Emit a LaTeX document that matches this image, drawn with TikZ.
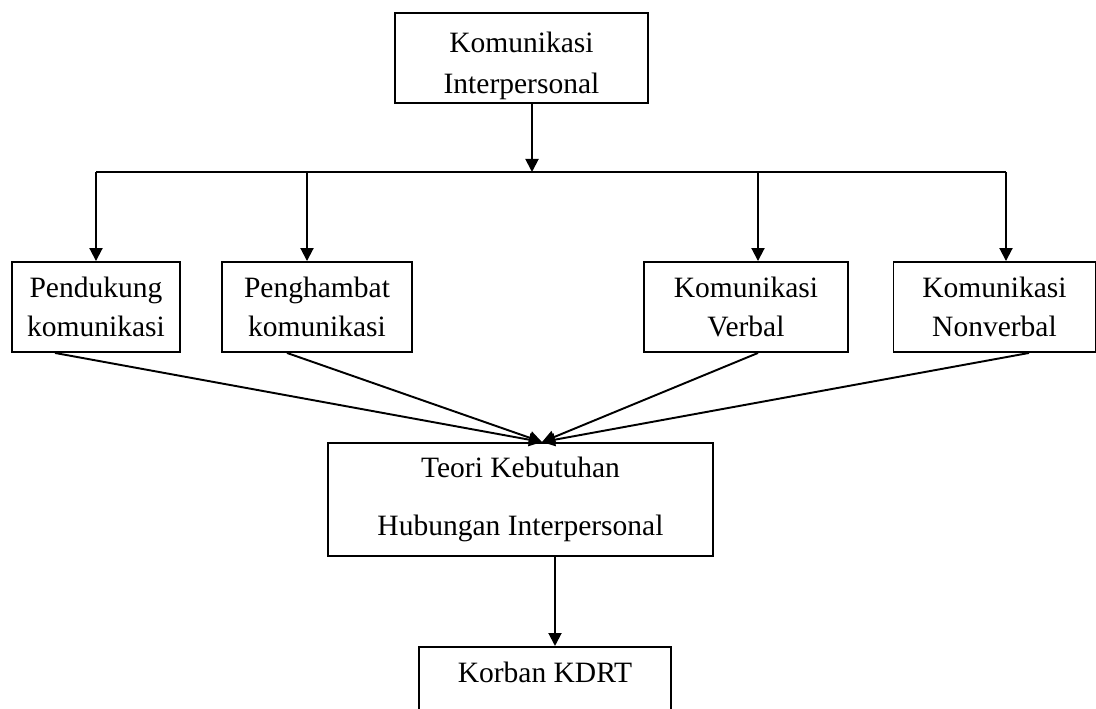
\documentclass[tikz,border=0pt]{standalone}
\usepackage{fontspec}
\setmainfont{Liberation Serif}
\usetikzlibrary{positioning, calc, arrows.meta}

\begin{document}
\begin{tikzpicture}[x=0.02cm, y=-0.02cm, line width=1.1pt,
	box/.style={draw, rectangle, inner sep=0, align=center, font=\fontsize{16.8}{22.5}\selectfont},
	lbl/.style={inner sep=0, align=center, font=\fontsize{16.8}{23.5}\selectfont},
	arr/.style={-{Triangle[width=0.26cm, length=0.26cm]}}]
\useasboundingbox (0,0) rectangle (1096,709);

\node[box, minimum width=5.06cm, minimum height=1.8cm,
	label={[lbl, yshift=-0.16cm]center:{Komunikasi\\Interpersonal}}] (komint) at (521.5,58) {};
\coordinate (split) at (532,172);
\draw[arr] (split |- komint.south) -- (split);

\node[box, minimum width=7.7cm, minimum height=2.26cm, font=\fontsize{16.8}{33.5}\selectfont]
	(teori) at (520.5,499.5) {Teori Kebutuhan\\Hubungan Interpersonal};
\coordinate (meet) at ([xshift=0.43cm]teori.north);

% empat kotak tengah
\foreach \n/\x/\w/\bx/\lx/\t in {
	pend/96/3.36/0/-0.82/{Pendukung\\komunikasi},
	hamb/317/3.8/-0.2/-0.6/{Penghambat\\komunikasi},
	verb/746/4.08/0.24/0.24/{Komunikasi\\Verbal},
	nonv/994.5/4.04/0.23/0.69/{Komunikasi\\Nonverbal}} {
	\node[box, minimum width=\w cm, minimum height=1.8cm] (\n) at (\x,307) {\t};
	\coordinate (top-\n) at ([xshift=\bx cm]\n.north |- split);
	\draw[arr] (top-\n) -- ([xshift=\bx cm]\n.north);
	\draw[arr] ([xshift=\lx cm]\n.south) -- (meet);
}
\draw (top-pend) -- (top-nonv);

\node[box, anchor=north, minimum width=5.04cm, minimum height=2.4cm,
	label={[lbl, anchor=base, yshift=-0.74cm]north:Korban KDRT}] (korban) at (545,646) {};
\draw[arr] ([xshift=0.69cm]teori.south) -- ([xshift=0.69cm]teori.south |- korban.north);
\end{tikzpicture}
\end{document}
